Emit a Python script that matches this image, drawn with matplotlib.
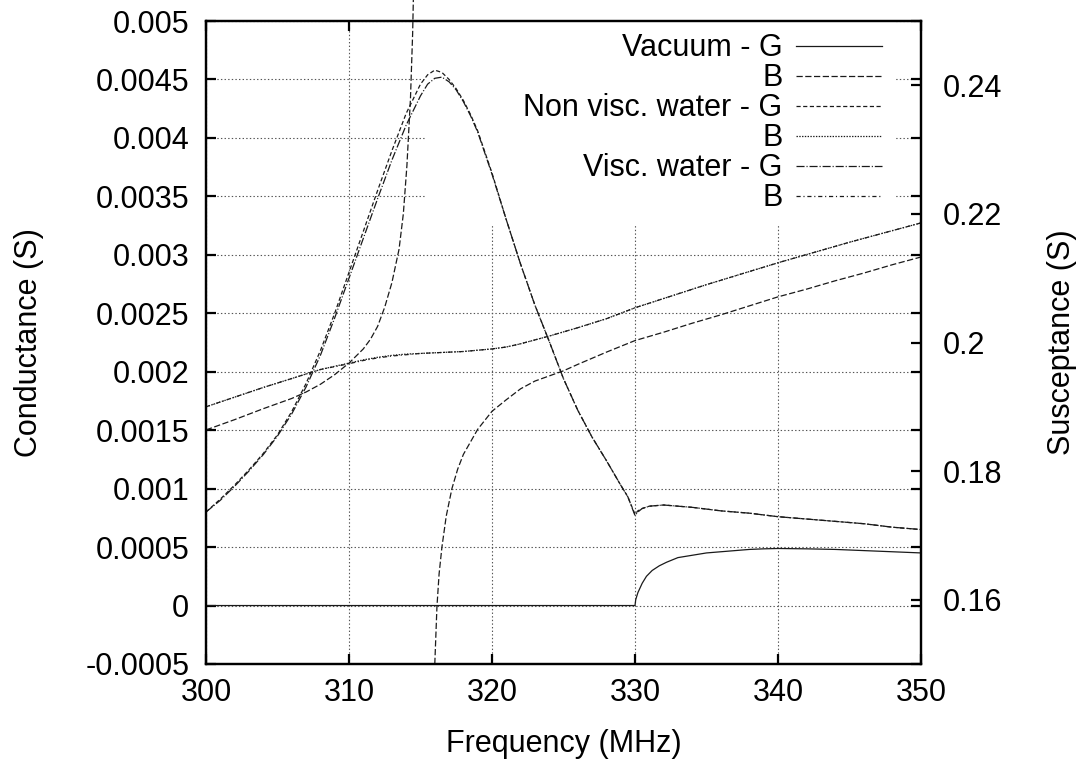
"""Conductance and susceptance of the resonator versus frequency."""

import matplotlib

matplotlib.use("Agg")
import matplotlib.pyplot as plt
import numpy as np
from matplotlib.ticker import FuncFormatter, MultipleLocator

plt.rcParams["font.family"] = ["Liberation Sans", "DejaVu Sans"]
plt.rcParams["lines.scale_dashes"] = False

# Conductance (S), water cases
freq_water_g = [300, 301, 302, 303, 304, 305, 306, 307, 308, 309, 310, 311, 312,
				313, 314, 315, 315.5, 316, 316.5, 317, 317.5, 318, 318.5, 319, 320,
				321, 322, 323, 324, 325, 326, 327, 328, 329, 329.5, 330, 330.2,
				330.5, 331, 332, 333, 334, 336, 338, 340, 342, 344, 346, 348, 350]
g_nonvisc = [0.00080, 0.00091, 0.00103, 0.00116, 0.00130, 0.00146, 0.00166,
			 0.00190, 0.00218, 0.00250, 0.00285, 0.00320, 0.00355, 0.00389,
			 0.00421, 0.00446, 0.00454, 0.00458, 0.00456, 0.00450, 0.00442,
			 0.00432, 0.00420, 0.00406, 0.00370, 0.00330, 0.00292, 0.00257,
			 0.00226, 0.00194, 0.00167, 0.00144, 0.00124, 0.00103, 0.00093,
			 0.00078, 0.00081, 0.00083, 0.00085, 0.00086, 0.00085, 0.00084,
			 0.00081, 0.00079, 0.00076, 0.00074, 0.00072, 0.00070, 0.00067,
			 0.00065]
g_visc = [0.00080, 0.00090, 0.00102, 0.00115, 0.00129, 0.00145, 0.00164,
		  0.00187, 0.00214, 0.00246, 0.00280, 0.00314, 0.00348, 0.00381,
		  0.00411, 0.00436, 0.00446, 0.00451, 0.00452, 0.00448, 0.00441,
		  0.00431, 0.00419, 0.00405, 0.00369, 0.00330, 0.00292, 0.00257,
		  0.00226, 0.00194, 0.00167, 0.00144, 0.00124, 0.00103, 0.00093,
		  0.00077, 0.00080, 0.00083, 0.00085, 0.00086, 0.00085, 0.00084,
		  0.00081, 0.00079, 0.00076, 0.00074, 0.00072, 0.00070, 0.00067,
		  0.00065]

# Conductance (S), vacuum
freq_vac_g = [300, 330, 330.05, 330.2, 330.5, 330.8, 331.2, 331.7, 332.2, 333,
			  334, 335, 336, 337, 338, 339, 340, 342, 344, 346, 348, 350]
g_vacuum = [0, 0, 0.00005, 0.00011, 0.00019, 0.00025, 0.00030, 0.00034,
			0.00037, 0.00041, 0.00043, 0.00045, 0.00046, 0.00047, 0.00048,
			0.000485, 0.000488, 0.000485, 0.00048, 0.00047, 0.00046, 0.00045]

# Susceptance (S), vacuum: pole near 315 MHz, NaN splits the branches
freq_vac_b = [300, 302, 304, 306, 307, 308, 309, 310, 311, 311.5, 312, 312.5,
			  313, 313.5, 313.8, 314.05, 314.3, 314.45, 314.5, np.nan,
			  316.0, 316.15, 316.3, 316.5, 316.8, 317.2, 317.6, 318, 319, 320,
			  321, 322, 323, 324, 325, 326, 328, 330, 332, 334, 336, 338, 340,
			  342, 344, 346, 348, 350]
b_vacuum = [0.1864, 0.1880, 0.1897, 0.1913, 0.1923, 0.1935, 0.1950, 0.1968,
			0.1990, 0.2005, 0.2025, 0.2055, 0.2093, 0.2145, 0.2200, 0.2275,
			0.2380, 0.2480, 0.2533, np.nan,
			0.1500, 0.1589, 0.1640, 0.1682, 0.1730, 0.1773, 0.1803, 0.1826,
			0.1865, 0.1893, 0.1911, 0.1928, 0.1940, 0.1948, 0.1956, 0.1966,
			0.1985, 0.2003, 0.2016, 0.2030, 0.2043, 0.2057, 0.2071, 0.2083,
			0.2096, 0.2108, 0.2121, 0.2133]

# Susceptance (S), water cases
freq_water_b = [300, 302, 304, 306, 308, 310, 311, 312, 313, 314, 315, 316, 317,
				318, 319, 320, 321, 322, 323, 324, 326, 328, 330, 335, 340, 345,
				350]
b_nonvisc = [0.1900, 0.1915, 0.1930, 0.1944, 0.1958, 0.1968, 0.1973, 0.1977,
			 0.1980, 0.1982, 0.1983, 0.1984, 0.1985, 0.1986, 0.1988, 0.1990,
			 0.1993, 0.1998, 0.2004, 0.2010, 0.2023, 0.2037, 0.2054, 0.2090,
			 0.2124, 0.2156, 0.2186]
b_visc = [0.1900, 0.1915, 0.1930, 0.1944, 0.1958, 0.1967, 0.1972, 0.1976,
		  0.1979, 0.1981, 0.1983, 0.1984, 0.1985, 0.1986, 0.1988, 0.1990,
		  0.1993, 0.1998, 0.2004, 0.2010, 0.2023, 0.2037, 0.2054, 0.2090,
		  0.2124, 0.2156, 0.2186]

# the leading spaces widen the key box, as gnuplot clears more grid than the text needs
legend_labels = ["Vacuum - G", "B", "          Non visc. water - G", "B",
				 "Visc. water - G", "B"]

FONT_SIZE = 22
LINE = dict(color="#1a1a1a", linewidth=0.9)

fig = plt.figure(figsize=(10.91, 7.67), dpi=100)
ax1 = fig.add_axes([0.1888, 0.1343, 0.6554, 0.8383])
ax2 = ax1.twinx()

line_vac_g, = ax1.plot(freq_vac_g, g_vacuum, linestyle="-", **LINE)
line_nv_g, = ax1.plot(freq_water_g, g_nonvisc, linestyle=(0, (3.0, 1.8)), **LINE)
line_v_g, = ax1.plot(freq_water_g, g_visc,
					 linestyle=(0, (5.8, 1.4, 0.8, 1.4)), **LINE)

line_vac_b, = ax2.plot(freq_vac_b, b_vacuum, linestyle=(0, (4.5, 1.8)),
					   clip_on=False, **LINE)
line_nv_b, = ax2.plot(freq_water_b, b_nonvisc, linestyle=(0, (1.0, 1.0)), **LINE)
line_v_b, = ax2.plot(freq_water_b, b_visc,
					 linestyle=(0, (3.0, 2.0, 0.8, 2.0)), **LINE)

ax1.set_xlim(300, 350)
ax1.set_ylim(-0.0005, 0.005)
ax2.set_ylim(0.15, 0.25)

ax1.xaxis.set_major_locator(MultipleLocator(10))
ax1.yaxis.set_major_locator(MultipleLocator(0.0005))
ax2.set_yticks(np.arange(0.16, 0.2401, 0.02))
fmt = FuncFormatter(lambda value, _pos: f"{value:g}" if abs(value) > 1e-12 else "0")
ax1.yaxis.set_major_formatter(fmt)
ax2.yaxis.set_major_formatter(fmt)

ax1.set_axisbelow(True)
ax1.grid(True, color="#555555", linestyle=(0, (1.0, 1.6)), linewidth=0.8)

ax1.tick_params(axis="both", direction="in", length=7, width=1.6,
				top=True, right=True, labelsize=FONT_SIZE)
ax1.tick_params(axis="y", pad=12)
ax1.tick_params(axis="x", pad=10)
ax2.tick_params(axis="y", direction="in", length=7, width=1.6,
				left=False, right=True, labelsize=FONT_SIZE, pad=16)
for axis in (ax1, ax2):
	for spine in axis.spines.values():
		spine.set_linewidth(1.6)

ax1.set_xlabel("Frequency (MHz)", fontsize=FONT_SIZE, labelpad=15)
ax1.set_ylabel("Conductance (S)", fontsize=FONT_SIZE, labelpad=30)
ax2.set_ylabel("Susceptance (S)", fontsize=FONT_SIZE, labelpad=32)

handles = [line_vac_g, line_vac_b, line_nv_g, line_nv_b, line_v_g, line_v_b]
legend = ax1.legend(
	handles,
	legend_labels,
	loc="upper right",
	bbox_to_anchor=(0.962, 1.0),
	markerfirst=False,
	frameon=True,
	fancybox=False,
	edgecolor="none",
	facecolor="white",
	framealpha=1.0,
	handlelength=2.8,
	handletextpad=0.45,
	labelspacing=0.0,
	borderpad=0.4,
	borderaxespad=0.0,
	fontsize=FONT_SIZE,
)
legend.set_zorder(1)

fig.savefig("out.png", dpi=100)
